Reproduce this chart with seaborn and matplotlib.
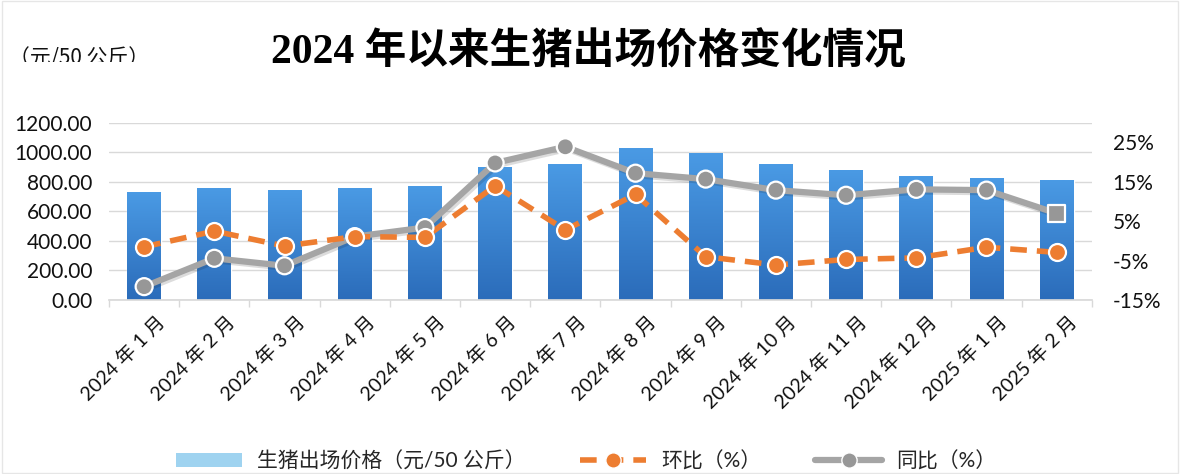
import matplotlib
matplotlib.use("Agg")
import matplotlib.pyplot as plt
import matplotlib.patheffects as pe
from matplotlib.colors import LinearSegmentedColormap
from matplotlib.lines import Line2D
from matplotlib.patches import Patch, Rectangle
from matplotlib.transforms import Bbox, TransformedBbox, ScaledTranslation
import numpy as np
import pandas as pd
import seaborn as sns

# data
months = ["2024 年 1 月", "2024 年 2 月", "2024 年 3 月", "2024 年 4 月", "2024 年 5 月",
          "2024 年 6 月", "2024 年 7 月", "2024 年 8 月", "2024 年 9 月", "2024 年 10 月",
          "2024 年 11 月", "2024 年 12 月", "2025 年 1 月", "2025 年 2 月"]
price = [731, 756, 744, 756, 771, 902, 920, 1026, 992, 920, 880, 839, 823, 810]
mom = [-1.5, 2.5, -1.3, 1.1, 0.9, 14.0, 2.8, 11.8, -4.0, -6.1, -4.7, -4.3, -1.6, -2.9]
yoy = [-11.6, -4.4, -6.3, 1.1, 3.4, 19.8, 23.9, 17.2, 15.7, 12.9, 11.6, 13.1, 12.9, 7.0]
yoy_marker = ["c"] * 13 + ["s"]

left_ticks = [0, 200, 400, 600, 800, 1000, 1200]
right_ticks = [-15, -5, 5, 15, 25]

title = "2024 年以来生猪出场价格变化情况"
unit_label = "（元/50 公斤）"
legend_labels = ["生猪出场价格（元/50 公斤）", "环比（%）", "同比（%）"]

BLUE = "#3482d4"
ORANGE = "#ed7d31"
GRAY = "#a5a5a5"
GRAY_DOT = "#979797"
GRID = "#d9d9d9"

sns.set_theme(style="white")
plt.rcParams["font.family"] = ["Lato", "Noto Sans CJK SC", "DejaVu Sans"]

df = pd.DataFrame({"month": months, "price": price, "mom": mom, "yoy": yoy,
                   "kind": yoy_marker})
df["pos"] = np.arange(len(df))

fig = plt.figure(figsize=(11.84, 4.74), dpi=100)
ax = fig.add_axes([0.0921, 0.367, 0.830, 0.374])

# bars with a light vertical gradient
sns.barplot(data=df, x="month", y="price", ax=ax, color=BLUE, width=0.48,
            saturation=1, zorder=2)
cmap = LinearSegmentedColormap.from_list("bar", ["#4a9ae4", "#2b6cba"])
grad = np.linspace(0, 1, 100).reshape(-1, 1)
for bar in ax.patches:
    x0, w, h = bar.get_x(), bar.get_width(), bar.get_height()
    im = ax.imshow(grad, extent=[x0, x0 + w, 0, h], origin="upper", aspect="auto",
                   cmap=cmap, zorder=2.5)
    im.set_clip_path(bar)

ax.set_xlim(-0.5, len(months) - 0.5)
ax.set_ylim(0, 1200)
ax.set_yticks(left_ticks)
ax.set_yticklabels([f"{v:.2f}" for v in left_ticks])
ax.yaxis.grid(True, color=GRID, lw=1, zorder=0)
ax.set_axisbelow(True)
ax.set_xlabel("")
ax.set_ylabel("")
for s in ["top", "left", "right"]:
    ax.spines[s].set_visible(False)
ax.spines["bottom"].set_color(GRID)
ax.tick_params(axis="y", length=0, pad=12, labelsize=15, labelcolor="#111111")
ax.tick_params(axis="x", length=0, pad=6, labelsize=14, labelcolor="#111111")
ax.set_xticks(np.arange(-0.5, len(months), 1.0), minor=True)
ax.tick_params(axis="x", which="minor", bottom=True, length=5, color=GRID, width=1)
plt.setp(ax.get_xticklabels(), rotation=45, ha="right", rotation_mode="anchor")
shift = ScaledTranslation(8 / 72, -3 / 72, fig.dpi_scale_trans)
for lbl in ax.get_xticklabels():
    lbl.set_transform(lbl.get_transform() + shift)

# lines on the secondary axis
ax2 = ax.twinx()
sns.lineplot(data=df, x="pos", y="yoy", ax=ax2, color=GRAY, lw=4.5,
             path_effects=[pe.SimpleLineShadow(offset=(1.5, -1.5), alpha=0.15),
                           pe.Normal()])
sns.lineplot(data=df, x="pos", y="mom", ax=ax2, color=ORANGE, lw=4,
             linestyle=(0, (3, 1.8)))
sns.scatterplot(data=df, x="pos", y="yoy", style="kind", markers={"c": "o", "s": "s"},
                ax=ax2, color=GRAY_DOT, s=150, edgecolor="white", linewidth=1.6,
                legend=False, zorder=5)
sns.scatterplot(data=df, x="pos", y="mom", ax=ax2, color=ORANGE, s=150,
                edgecolor="white", linewidth=1.6, legend=False, zorder=6)
ax2.set_ylim(-15, 30)
ax2.set_yticks(right_ticks)
ax2.set_yticklabels([f"{v}%" for v in right_ticks])
ax2.set_xlabel("")
ax2.set_ylabel("")
for s in ax2.spines.values():
    s.set_visible(False)
ax2.tick_params(axis="y", length=0, pad=15, labelsize=15, labelcolor="#111111")
ax2.grid(False)
ax.set_xlim(-0.5, len(months) - 0.5)

# title and unit
fig.text(0.497, 0.89, title, ha="center", va="center", fontsize=30, fontweight="bold",
         family=["Liberation Serif", "Noto Sans CJK SC"], color="#000000")
unit = fig.text(0.008, 0.878, unit_label, ha="left", va="center", fontsize=15,
                family=["Noto Sans CJK SC", "DejaVu Sans"], color="#111111")
unit.set_clip_box(TransformedBbox(Bbox([[0, 0.869], [0.3, 1]]), fig.transFigure))
unit.set_clip_on(True)

# legend along the bottom edge
handles = [Patch(facecolor="#9fd3f0", edgecolor="none"),
           Line2D([], [], color=ORANGE, lw=4, ls=(0, (3, 1.8)), marker="o", ms=11,
                  mec="white"),
           Line2D([], [], color=GRAY, lw=4.5, marker="o", ms=11, mfc=GRAY_DOT,
                  mec="white")]
fig.legend(handles, legend_labels, loc="center", bbox_to_anchor=(0.495, 0.027), ncol=3,
           frameon=False, fontsize=15, handlelength=3.2, handletextpad=0.7,
           columnspacing=2.6)

fig.patches.append(Rectangle((0.002, 0.002), 0.993, 0.996, transform=fig.transFigure,
                             fill=False, edgecolor="#e6e6e6", lw=1))

fig.savefig("out.png", dpi=100)
